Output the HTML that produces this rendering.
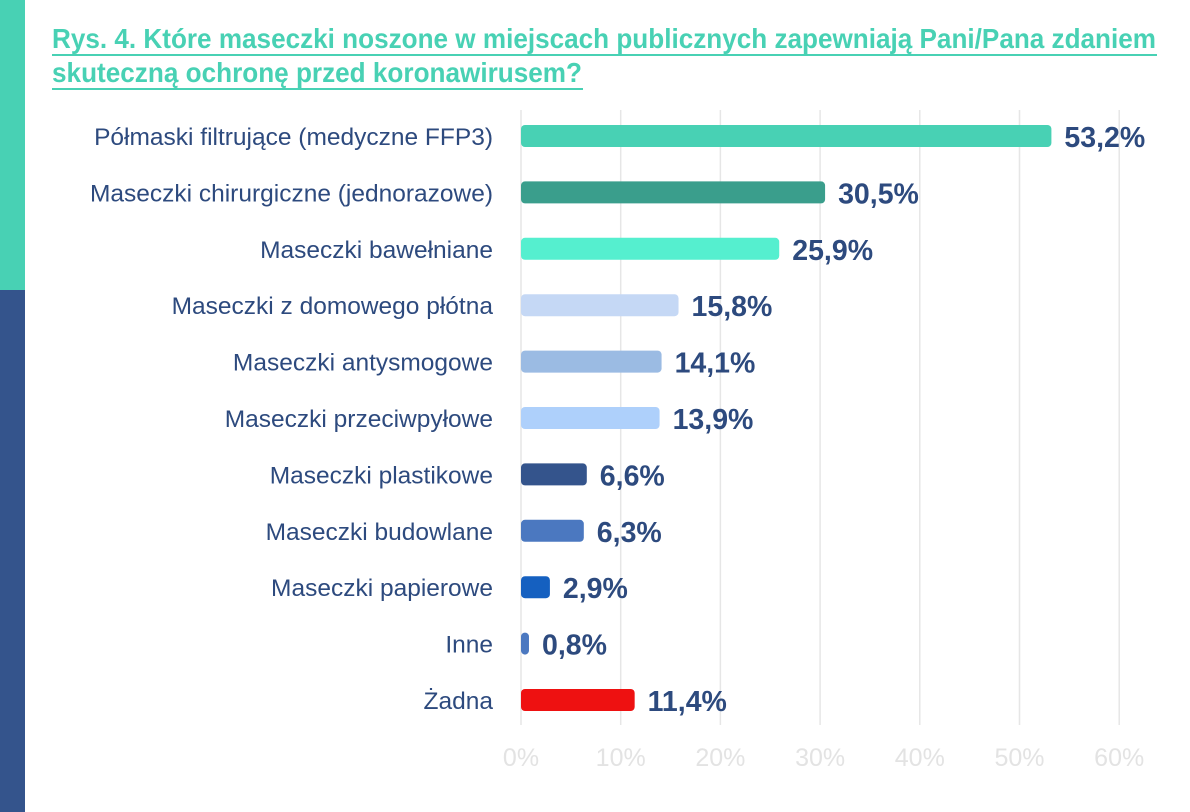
<!DOCTYPE html>
<html><head><meta charset="utf-8"><style>
html,body{margin:0;padding:0;background:#fff;}
svg{display:block;font-family:"Liberation Sans",sans-serif;}
</style></head><body>
<svg id="chart" width="1190" height="812" viewBox="0 0 1190 812" xmlns="http://www.w3.org/2000/svg">
<rect x="0" y="0" width="25" height="290" fill="#48d1b4"/>
<rect x="0" y="290" width="25" height="522" fill="#34548c"/>
<g fill="#48d1b4" font-weight="bold" font-size="28">
<text x="52" y="48" textLength="1104" lengthAdjust="spacingAndGlyphs">Rys. 4. Które maseczki noszone w miejscach publicznych zapewniają Pani/Pana zdaniem</text>
<rect x="52" y="54" width="1105" height="2"/>
<text x="52" y="82" textLength="530" lengthAdjust="spacingAndGlyphs">skuteczną ochronę przed koronawirusem?</text>
<rect x="52" y="88" width="531" height="2"/>
</g>
<g id="grid"></g><g id="bars"></g>
</svg>
<script>
const categories=["Półmaski filtrujące (medyczne FFP3)","Maseczki chirurgiczne (jednorazowe)","Maseczki bawełniane","Maseczki z domowego płótna","Maseczki antysmogowe","Maseczki przeciwpyłowe","Maseczki plastikowe","Maseczki budowlane","Maseczki papierowe","Inne","Żadna"];
const values=[53.2,30.5,25.9,15.8,14.1,13.9,6.6,6.3,2.9,0.8,11.4];
const valueLabels=["53,2%","30,5%","25,9%","15,8%","14,1%","13,9%","6,6%","6,3%","2,9%","0,8%","11,4%"];
const ticks=[0,10,20,30,40,50,60];
const tickLabels=["0%","10%","20%","30%","40%","50%","60%"];
const colors=["#48d1b4","#3a9e8c","#55efcf","#c5d8f5","#9bbbe3","#aed0fb","#34548c","#4b78c0","#1560c0","#4b78c0","#ee1111"];
const NS="http://www.w3.org/2000/svg";
const x=v=>521+v*9.97;
const y=i=>136+i*56.4;
function mk(t,a,p){const e=document.createElementNS(NS,t);for(const k in a)e.setAttribute(k,a[k]);p.appendChild(e);return e;}
const g=document.getElementById('grid'),b=document.getElementById('bars');
ticks.forEach((t,i)=>{
 const l=mk('line',{x1:x(t),x2:x(t),y1:110,y2:725,stroke:'#e6e6e6','stroke-width':1.5},g);
 
 
 const tx=mk('text',{x:x(t),y:766,'text-anchor':'middle','font-size':25,fill:'#e3e3e3'},g);
 
 
 tx.textContent=tickLabels[i];
});
categories.forEach((c,i)=>{
 const cy=y(i);
 const lb=mk('text',{x:493,y:cy+9,'text-anchor':'end','font-size':24.5,fill:'#2d4a7e'},b);
 
 
 lb.textContent=c;
 const w=Math.max(x(values[i])-x(0),6);
 const r=mk('rect',{x:x(0),y:cy-11,width:w,height:22,rx:4,fill:colors[i]},b);
 
 
 const v=mk('text',{x:x(values[i])+13,y:cy+11,'font-size':28.5,'font-weight':'bold',fill:'#2d4a7e'},b);
 
 
 v.textContent=valueLabels[i];
});
</script>
</body></html>
